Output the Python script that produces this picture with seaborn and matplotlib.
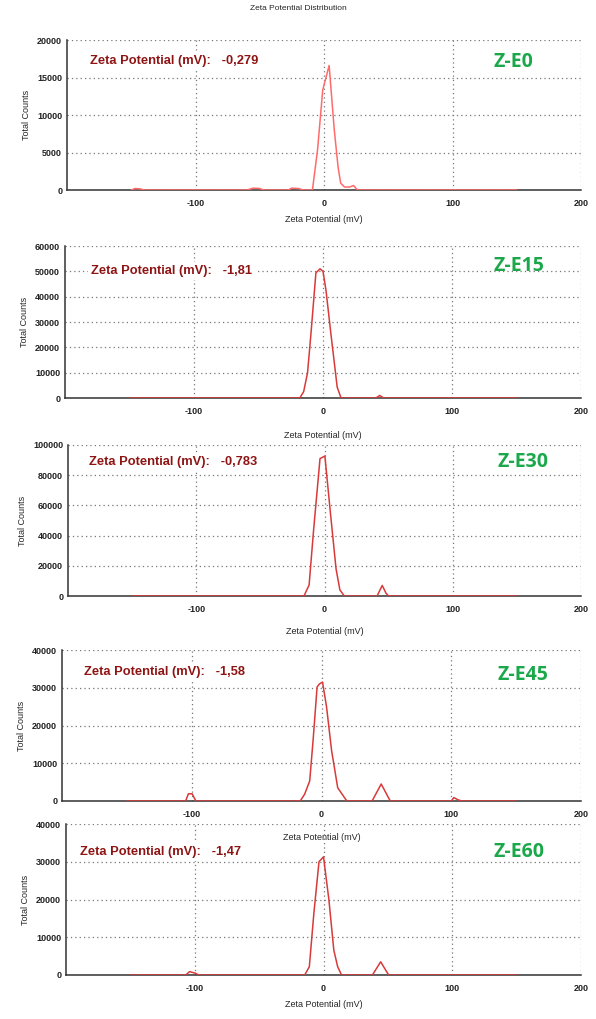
import numpy as np
import pandas as pd
import seaborn as sns
import matplotlib.pyplot as plt
from matplotlib.ticker import MultipleLocator

# Zeta potential distributions
samples = ["Z-E0", "Z-E15", "Z-E30", "Z-E45", "Z-E60"]
zeta_means = ["-0,279", "-1,81", "-0,783", "-1,58", "-1,47"]
y_max = [20000, 60000, 100000, 40000, 40000]
y_step = [5000, 10000, 20000, 10000, 10000]

e0_x = [-150, -147, -143, -140, -60, -55, -50, -47, -28, -25, -20, -16, -9, -5, -1, 0, 4, 8, 11, 13, 16, 20, 23, 26, 150]
e0_y = [0, 200, 150, 0, 0, 250, 200, 0, 0, 250, 200, 0, 0, 5400, 13300, 14000, 16600, 8000, 3000, 900, 400, 400, 600, 0, 0]

e15_x = [-150, -18, -15, -12, -9.4, -5.5, -2.3, 0, 2.3, 6.2, 11, 14, 41, 44, 47, 150]
e15_y = [0, 0, 2500, 9900, 25000, 49400, 51000, 50000, 42600, 25000, 4300, 0, 0, 1000, 0, 0]

e30_x = [-150, -16, -12, -8.5, -3.5, 0.3, 4.5, 9, 12, 15.5, 41, 45, 48, 50, 150]
e30_y = [0, 0, 7300, 43700, 91000, 92700, 56000, 18000, 4000, 0, 0, 7000, 1800, 0, 0]

e45_x = [-150, -104.7, -102.6, -99.7, -96.8, -16.4, -13, -9.1, -6.5, -3.4, -1.6, 0.8, 3.9, 7.8, 12.5, 19.5,
         39, 46, 53, 100, 102, 105, 108, 150]
e45_y = [0, 0, 1900, 1900, 0, 0, 1800, 5300, 16000, 30200, 31000, 31500, 24900, 13300, 3500, 0,
         0, 4500, 0, 0, 900, 350, 0, 0]

e60_x = [-150, -107, -104, -99.4, -97, -14.6, -11, -7.5, -3.5, 0, 4.2, 8, 11, 14, 38, 44.4, 50.6, 150]
e60_y = [0, 0, 900, 450, 0, 0, 2200, 16300, 30000, 31300, 19900, 6600, 2200, 0, 0, 3500, 0, 0]

curves = [(e0_x, e0_y), (e15_x, e15_y), (e30_x, e30_y), (e45_x, e45_y), (e60_x, e60_y)]

sns.set_style("white")
plt.rcParams['font.family'] = ['Liberation Sans', 'DejaVu Sans']
plt.rcParams['axes.unicode_minus'] = False

W, H = 596, 1019
fig = plt.figure(figsize=(W / 100, H / 100), dpi=100)

# pixel boxes (left, top, right, bottom) of each panel
boxes = [(67, 40, 581, 190), (65, 246, 581, 398), (68, 445, 581, 596),
         (62, 650, 581, 801), (66, 824, 581, 975)]
ann_pos = [(90, 61), (91, 271), (89, 462), (84, 672), (80, 852)]
lab_pos = [(494, 62), (494, 266), (497, 462), (497, 675), (494, 852)]
xlab_pad = [5, 11, 9, 10, 5]
line_colors = ["#ff6b6b", "#d83a3a", "#d83a3a", "#d83a3a", "#d83a3a"]

for i in range(5):
    l, t, r, b = boxes[i]
    ax = fig.add_axes([l / W, 1 - b / H, (r - l) / W, (b - t) / H])
    ax.patch.set_alpha(0)
    df = pd.DataFrame({"Zeta Potential (mV)": curves[i][0], "Total Counts": curves[i][1]})
    sns.lineplot(data=df, x="Zeta Potential (mV)", y="Total Counts", ax=ax,
                 color=line_colors[i], linewidth=1.1, zorder=3)
    ax.set_xlim(-200, 200)
    ax.set_ylim(0, y_max[i])
    ax.xaxis.set_minor_locator(MultipleLocator(50))
    ax.yaxis.set_major_locator(MultipleLocator(y_step[i]))
    ax.yaxis.set_minor_locator(MultipleLocator(y_step[i] / 2))
    ax.set_xticks([-100, 0, 100, 200])
    ax.grid(True, which='major', linestyle=(0, (1, 2.5)), color='#777777', linewidth=0.9)
    for s in ['top', 'right']:
        ax.spines[s].set_visible(False)
    for s in ['left', 'bottom']:
        ax.spines[s].set_color('#333333')
        ax.spines[s].set_linewidth(1.1)
    ax.tick_params(which='both', direction='inout', color='#222222', labelsize=6.5, width=1.0)
    ax.tick_params(which='major', length=5)
    ax.tick_params(which='minor', length=4)
    ax.tick_params(axis='x', pad=4)
    ax.tick_params(axis='y', pad=1)
    for lab in ax.get_xticklabels() + ax.get_yticklabels():
        lab.set_fontweight('bold')
        lab.set_color('#222222')
    ax.set_xlabel("Zeta Potential (mV)", fontsize=6.5, labelpad=xlab_pad[i])
    ax.set_ylabel("Total Counts", fontsize=6.5, labelpad=4)

    fig.text(ann_pos[i][0] / W, 1 - ann_pos[i][1] / H, f"Zeta Potential (mV):   {zeta_means[i]}",
             fontsize=9.3, fontweight='bold', color='#8e1414', ha='left', va='center',
             bbox=dict(facecolor='white', edgecolor='none', pad=2))
    fig.text(lab_pos[i][0] / W, 1 - lab_pos[i][1] / H, samples[i], fontsize=14, fontweight='bold',
             family=['Open Sans', 'DejaVu Sans'], color='#1aa84b', ha='left', va='center')

fig.text(298 / W, 1 - 8 / H, "Zeta Potential Distribution", fontsize=6, ha='center', va='center')

plt.savefig('out.png', dpi=100)
